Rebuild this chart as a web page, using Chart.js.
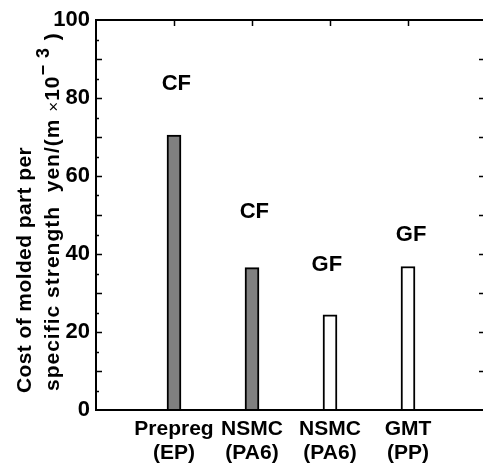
<!DOCTYPE html>
<html>
<head>
<meta charset="utf-8">
<script src="https://cdn.jsdelivr.net/npm/chart.js@4/dist/chart.umd.min.js"></script>
<style>
    html, body { margin: 0; padding: 0; background: #fff; overflow: hidden; }
    #wrap { width: 490px; height: 470px; }
</style>
</head>
<body>
<div id="wrap"><canvas id="chart" width="490" height="470"></canvas></div>
<script>
// Cost of molded part per specific strength, by material
const CATEGORIES = ['Prepreg', 'NSMC', 'NSMC', 'GMT'];
const RESINS = ['(EP)', '(PA6)', '(PA6)', '(PP)'];
const COSTS = [70.5, 36.5, 24.4, 36.8];
const FIBERS = ['CF', 'CF', 'GF', 'GF'];
const FIBER_LABEL_X = [1.03, 2.03, 2.96, 4.04];
const FIBER_LABEL_Y = [83.5, 50.9, 37.3, 44.9];
const Y_TICKS = [0, 20, 40, 60, 80, 100];

const FONT = "'Liberation Sans', Arial, sans-serif";
const BAR_FILL = CATEGORIES.map((_, i) => FIBERS[i] === 'CF' ? '#808080' : '#ffffff');

// Frame, inward ticks, fiber labels and the rotated y title
const framePlugin = {
    id: 'frame',
    afterDatasetsDraw(chart) {
        const { ctx, chartArea: a, scales: { x, y } } = chart;
        ctx.save();
        ctx.strokeStyle = '#000';
        ctx.lineWidth = 2;
        ctx.strokeRect(a.left, a.top, a.right - a.left, a.bottom - a.top);

        // left and right ticks every 5, longer every 10
        ctx.lineWidth = 1.5;
        for (let v = 5; v < 100; v += 5) {
            const py = Math.round(y.getPixelForValue(v)) + 0.5;
            const major = v % 10 === 0;
            ctx.beginPath();
            ctx.moveTo(a.left, py);
            ctx.lineTo(a.left + (major ? 6 : 3), py);
            ctx.moveTo(a.right, py);
            ctx.lineTo(a.right - (major ? 7 : 3), py);
            ctx.stroke();
        }
        // top ticks at categories
        for (let i = 1; i <= CATEGORIES.length; i++) {
            const px = Math.round(x.getPixelForValue(i)) + 0.5;
            ctx.beginPath();
            ctx.moveTo(px, a.top);
            ctx.lineTo(px, a.top + 6);
            ctx.stroke();
        }

        // fiber type labels
        ctx.fillStyle = '#000';
        ctx.font = 'bold 22px ' + FONT;
        ctx.textAlign = 'center';
        ctx.textBaseline = 'middle';
        FIBERS.forEach((f, i) => {
            ctx.fillText(f, x.getPixelForValue(FIBER_LABEL_X[i]), y.getPixelForValue(FIBER_LABEL_Y[i]));
        });

        // y axis title, two lines, left aligned from the bottom
        ctx.textAlign = 'left';
        ctx.textBaseline = 'alphabetic';
        ctx.save();
        ctx.translate(31, 393);
        ctx.rotate(-Math.PI / 2);
        ctx.font = 'bold 21px ' + FONT;
        ctx.letterSpacing = '0.4px';
        ctx.fillText('Cost of molded part per', 0, 0);
        ctx.restore();

        ctx.save();
        ctx.translate(59, 391);
        ctx.rotate(-Math.PI / 2);
        ctx.letterSpacing = '1px';
        const parts = [
            { t: 'specific strength  yen/(m ', f: 'bold 21px ', dy: 0 },
            { t: '\u00d7', f: '17px ', dy: 0 },
            { t: '10', f: 'bold 21px ', dy: 0 },
            { t: '\u2212 3', f: 'bold 18px ', dy: -10 },
            { t: ' )', f: 'bold 21px ', dy: 0 },
        ];
        let cx = 0;
        parts.forEach(p => {
            ctx.font = p.f + FONT;
            ctx.fillText(p.t, cx, p.dy);
            cx += ctx.measureText(p.t).width;
        });
        ctx.restore();
        ctx.restore();
    }
};

new Chart(document.getElementById('chart'), {
    type: 'bar',
    data: {
        datasets: [{
            data: COSTS.map((v, i) => ({ x: i + 1, y: v })),
            backgroundColor: BAR_FILL,
            borderColor: '#000',
            borderWidth: 2,
            borderSkipped: 'bottom',
            barThickness: 14,
        }],
    },
    options: {
        responsive: false,
        animation: false,
        layout: { padding: { top: 20, right: 4, left: 0, bottom: 0 } },
        plugins: { legend: { display: false }, tooltip: { enabled: false } },
        scales: {
            x: {
                type: 'linear',
                offset: false,
                min: 0,
                max: CATEGORIES.length + 1,
                grid: { display: false, drawTicks: false },
                border: { display: false },
                afterBuildTicks: (scale) => {
                    scale.ticks = CATEGORIES.map((_, i) => ({ value: i + 1 }));
                },
                afterFit: (scale) => { scale.height = 60; },
                ticks: {
                    color: '#000',
                    padding: 7,
                    maxRotation: 0,
                    autoSkip: false,
                    font: { family: FONT, size: 21, weight: 'bold', lineHeight: 1.15 },
                    callback: (v) => [CATEGORIES[v - 1], RESINS[v - 1]],
                },
            },
            y: {
                min: 0,
                max: 100,
                grid: { display: false, drawTicks: false },
                border: { display: false },
                afterBuildTicks: (scale) => {
                    scale.ticks = Y_TICKS.map(v => ({ value: v }));
                },
                afterFit: (scale) => { scale.width = 96; },
                ticks: {
                    color: '#000',
                    padding: 6,
                    font: { family: FONT, size: 22, weight: 'bold' },
                },
            },
        },
    },
    plugins: [framePlugin],
});
</script>
</body>
</html>
